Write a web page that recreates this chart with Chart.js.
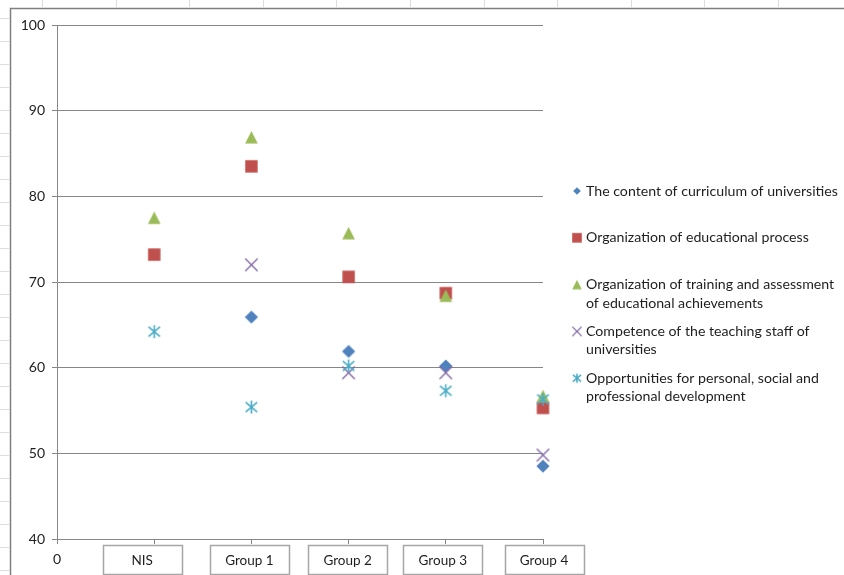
<!DOCTYPE html>
<html>
<head>
<meta charset="utf-8">
<script src="https://cdn.jsdelivr.net/npm/chart.js@4/dist/chart.umd.min.js"></script>
<style>
  html, body { margin: 0; padding: 0; background: #ffffff; overflow: hidden; }
  #wrap { position: relative; width: 844px; height: 575px; }
</style>
</head>
<body>
<div id="wrap"><canvas id="c" width="844" height="575"></canvas></div>
<script>
// Survey scores by group (NIS has no score for two of the criteria)
const categories = ['NIS', 'Group 1', 'Group 2', 'Group 3', 'Group 4'];
const seriesNames = [
  'The content of curriculum of universities',
  'Organization of educational process',
  'Organization of training and assessment of educational achievements',
  'Competence of the teaching staff of universities',
  'Opportunities for personal, social and professional development'
];
const curriculumContent   = [null, 65.9, 61.9, 60.2, 48.5];
const educationalProcess  = [73.2, 83.5, 70.6, 68.7, 55.3];
const trainingAssessment  = [77.5, 86.9, 75.7, 68.4, 56.7];
const teachingStaff       = [null, 72.0, 59.4, 59.4, 49.8];
const personalDevelopment = [64.2, 55.4, 60.2, 57.3, 56.3];
const yTicks = [40, 50, 60, 70, 80, 90, 100];
const xTicks = [0, 1, 2, 3, 4, 5];

const seriesValues = [curriculumContent, educationalProcess, trainingAssessment, teachingStaff, personalDevelopment];
const seriesColors = ['#4F81BD', '#C0504D', '#9BBB59', '#8064A2', '#4BACC6'];
const seriesShapes = ['diamond', 'square', 'triangle', 'cross', 'asterisk'];

const FONT = 'Lato, "Open Sans", sans-serif';
const TEXT = '#1e1e1e';
const AXIS = '#868686';

// small offsets of the hand-placed category text boxes (px)
const boxNudge = [-12, -2, -1, -3, 1];

// Marker bitmaps, drawn centred on their own little canvas
function makeMarker(kind, h, color) {
  const s = Math.ceil(h * 2 + 4);
  const cv = document.createElement('canvas');
  cv.width = s; cv.height = s;
  const g = cv.getContext('2d');
  const c = s / 2;
  g.fillStyle = color; g.strokeStyle = color; g.lineCap = 'butt';
  g.beginPath();
  if (kind === 'diamond') {
    g.moveTo(c - h, c); g.lineTo(c, c - h); g.lineTo(c + h, c); g.lineTo(c, c + h); g.closePath(); g.fill();
  } else if (kind === 'square') {
    g.fillRect(c - h, c - h, 2 * h, 2 * h);
  } else if (kind === 'triangle') {
    g.moveTo(c, c - h); g.lineTo(c + h, c + h); g.lineTo(c - h, c + h); g.closePath(); g.fill();
  } else if (kind === 'cross') {
    g.lineWidth = 1.3;
    g.moveTo(c - h, c - h); g.lineTo(c + h, c + h);
    g.moveTo(c + h, c - h); g.lineTo(c - h, c + h); g.stroke();
  } else if (kind === 'asterisk') {
    g.lineWidth = 1.6;
    g.moveTo(c, c - h); g.lineTo(c, c + h);
    g.moveTo(c - h * 0.9, c - h * 0.75); g.lineTo(c + h * 0.9, c + h * 0.75);
    g.moveTo(c + h * 0.9, c - h * 0.75); g.lineTo(c - h * 0.9, c + h * 0.75); g.stroke();
  }
  return cv;
}
const plotSizes   = { diamond: 6.6, square: 6.2, triangle: 6.3, cross: 6.2, asterisk: 6.4 };
const legendSizes = { diamond: 3.8, square: 4.8, triangle: 4.8, cross: 4.6, asterisk: 4.6 };

// later series are painted over earlier ones
const datasets = seriesNames.map((name, k) => ({
  label: name,
  data: seriesValues[k].flatMap((v, i) => v == null ? [] : [{ x: i + 1, y: v }]),
  pointStyle: makeMarker(seriesShapes[k], plotSizes[seriesShapes[k]], seriesColors[k]),
  legendMarker: makeMarker(seriesShapes[k], legendSizes[seriesShapes[k]], seriesColors[k]),
  backgroundColor: seriesColors[k],
  borderColor: seriesColors[k],
  showLine: false,
  clip: false,
  order: seriesNames.length - k
}));

// Sheet frame behind the chart
const framePlugin = {
  id: 'frame',
  beforeDraw(chart) {
    const ctx = chart.ctx;
    ctx.save();
    ctx.fillStyle = '#ffffff';
    ctx.fillRect(0, 0, chart.width, chart.height);
    ctx.strokeStyle = '#dedede';
    ctx.lineWidth = 1;
    ctx.beginPath();
    for (let x = 42; x < chart.width; x += 73.6) {
      ctx.moveTo(Math.round(x) + 0.5, 0); ctx.lineTo(Math.round(x) + 0.5, 7);
    }
    for (let y = 18; y < chart.height; y += 23) {
      ctx.moveTo(0, Math.round(y) + 0.5); ctx.lineTo(9, Math.round(y) + 0.5);
    }
    ctx.stroke();
    ctx.strokeStyle = '#7f7f7f';
    ctx.lineWidth = 1.5;
    ctx.beginPath();
    ctx.moveTo(10.5, chart.height); ctx.lineTo(10.5, 8.5); ctx.lineTo(chart.width, 8.5);
    ctx.stroke();
    ctx.restore();
  }
};

// Category names in outlined boxes under the x axis
const categoryBoxes = {
  id: 'categoryBoxes',
  afterDraw(chart) {
    const ctx = chart.ctx;
    const xs = chart.scales.x;
    const top = chart.chartArea.bottom + 6;
    ctx.save();
    ctx.font = '13.5px ' + FONT;
    ctx.textAlign = 'center';
    ctx.textBaseline = 'middle';
    categories.forEach((cat, i) => {
      const cx = xs.getPixelForValue(i + 1) + boxNudge[i];
      ctx.strokeStyle = '#a6a6a6';
      ctx.lineWidth = 1.5;
      ctx.strokeRect(Math.round(cx - 39.5) + 0.5, top + 0.5, 79, 29);
      ctx.fillStyle = TEXT;
      ctx.fillText(cat, cx, top + 16);
    });
    ctx.restore();
  }
};

// Legend on the right with wrapped labels
const sideLegend = {
  id: 'sideLegend',
  afterDraw(chart) {
    const ctx = chart.ctx;
    const textX = 586, markerX = 577, firstY = 191, step = 46.8, lineH = 18.5, maxW = 258;
    ctx.save();
    ctx.font = '14px ' + FONT;
    const ref = ctx.measureText(seriesNames[0]).width;
    const size = 14 * 252 / ref;
    ctx.font = size.toFixed(2) + 'px ' + FONT;
    ctx.fillStyle = TEXT;
    ctx.textAlign = 'left';
    ctx.textBaseline = 'middle';
    chart.data.datasets.forEach((ds, k) => {
      const y0 = firstY + k * step;
      const words = ds.label.split(' ');
      const lines = [];
      let cur = '';
      words.forEach(w => {
        const t = cur ? cur + ' ' + w : w;
        if (cur && ctx.measureText(t).width > maxW) { lines.push(cur); cur = w; } else { cur = t; }
      });
      lines.push(cur);
      lines.forEach((ln, j) => ctx.fillText(ln, textX, y0 + j * lineH));
      const m = ds.legendMarker;
      ctx.drawImage(m, markerX - m.width / 2, y0 - m.height / 2);
    });
    ctx.restore();
  }
};

new Chart(document.getElementById('c'), {
  type: 'scatter',
  data: { datasets },
  options: {
    responsive: false,
    animation: false,
    events: [],
    layout: { padding: { top: 25, right: 301, bottom: 0, left: 0 } },
    plugins: { legend: { display: false }, tooltip: { enabled: false } },
    scales: {
      x: {
        type: 'linear',
        min: 0,
        max: 5,
        afterBuildTicks: s => { s.ticks = xTicks.map(v => ({ value: v })); },
        afterFit: s => { s.height = 36; },
        grid: { drawOnChartArea: false, drawTicks: true, tickLength: 5, color: AXIS, tickColor: AXIS },
        border: { display: true, color: AXIS, width: 1 },
        ticks: {
          autoSkip: false,
          maxRotation: 0,
          padding: 7,
          color: TEXT,
          font: { family: FONT, size: 14 },
          callback: v => (v === 0 ? '0' : '')
        }
      },
      y: {
        min: 40,
        max: 100,
        afterBuildTicks: s => { s.ticks = yTicks.map(v => ({ value: v })); },
        afterFit: s => { s.width = 57; },
        grid: { color: AXIS, tickColor: AXIS, tickLength: 5, drawTicks: true },
        border: { display: true, color: AXIS, width: 1 },
        ticks: {
          padding: 7,
          color: TEXT,
          font: { family: FONT, size: 14 }
        }
      }
    }
  },
  plugins: [framePlugin, categoryBoxes, sideLegend]
});
</script>
</body>
</html>
